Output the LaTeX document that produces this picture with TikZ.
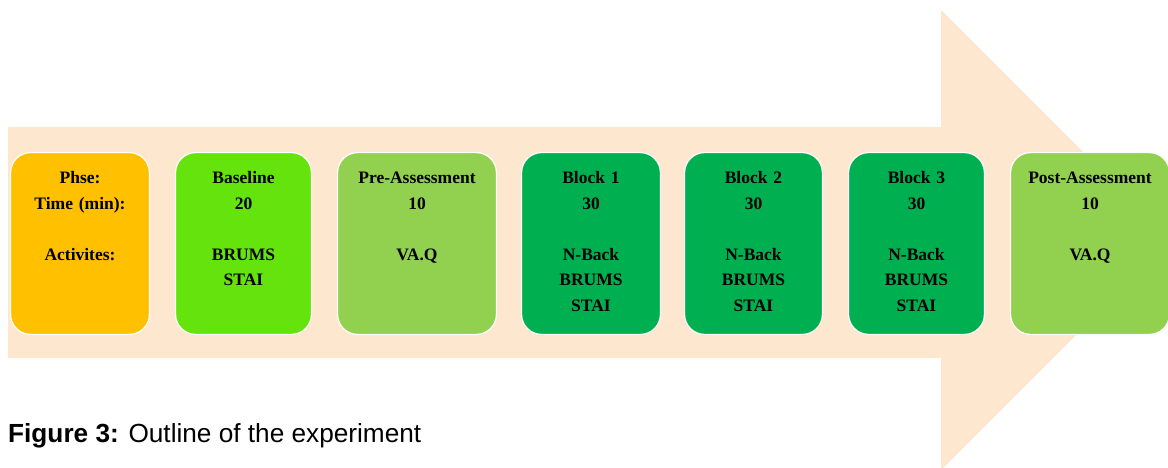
\documentclass[tikz,border=0pt]{standalone}
\usepackage{xcolor}
\usepackage{fontspec}
\setmainfont{Liberation Serif}
\newfontfamily\capfont{Liberation Sans}
\usepackage{tikz}
\usetikzlibrary{positioning}

\definecolor{peach}{HTML}{FDE7CF}
\definecolor{amber}{HTML}{FFC000}
\definecolor{lime}{HTML}{64E40C}
\definecolor{lightgreen}{HTML}{92D050}
\definecolor{darkgreen}{HTML}{00B050}

\begin{document}
\begin{tikzpicture}[x=1pt,y=1pt,
    phasebox/.style={rectangle,rounded corners=20pt,draw=white,line width=1.2pt,
      inner sep=0pt,align=center,text height=31pt,text depth=150.8pt,
      font=\fontsize{17.5}{25.5}\selectfont\bfseries},
    node distance=25pt]
  \useasboundingbox (0,0) rectangle (1168,467);
  % big arrow in the background
  \fill[peach] (8,109) -- (8,340) -- (941,340) -- (941,457) -- (1171,227)
    -- (941,-3) -- (941,109) -- cycle;
  \node[phasebox,fill=amber,text width=138.8pt,anchor=north west] (legend) at (10,315)
    {Phse:\\Time (min):\\[25.5pt]Activites:};
  \node[phasebox,fill=lime,text width=135.8pt,right=of legend] (base)
    {Baseline\\20\\[25.5pt]BRUMS\\STAI};
  \node[phasebox,fill=lightgreen,text width=158.8pt,right=of base] (pre)
    {Pre-Assessment\\10\\[25.5pt]VA.Q};
  \node[phasebox,fill=darkgreen,text width=138.8pt,right=24pt of pre] (blockA)
    {Block 1\\30\\[25.5pt]N-Back\\BRUMS\\STAI};
  \node[phasebox,fill=darkgreen,text width=137.8pt,right=23pt of blockA] (blockB)
    {Block 2\\30\\[25.5pt]N-Back\\BRUMS\\STAI};
  \node[phasebox,fill=darkgreen,text width=135.8pt,right=of blockB] (blockC)
    {Block 3\\30\\[25.5pt]N-Back\\BRUMS\\STAI};
  \node[phasebox,fill=lightgreen,text width=158.8pt,right=of blockC] (post)
    {Post-Assessment\\10\\[25.5pt]VA.Q};
  % caption
  \node[anchor=base west,inner sep=0pt,font=\capfont\fontsize{26.2}{30}\selectfont] (caption) at (8,25)
    {\textbf{Figure 3:} Outline of the experiment};
\end{tikzpicture}
\end{document}
